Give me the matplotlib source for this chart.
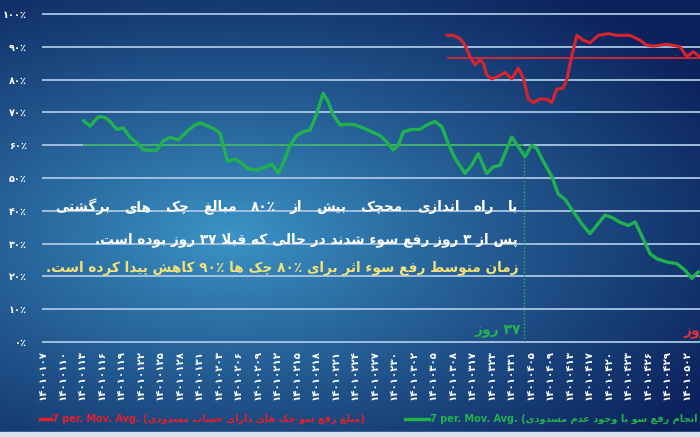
import re

import numpy as np
import matplotlib

matplotlib.use("Agg")
import matplotlib.pyplot as plt
from matplotlib.lines import Line2D

plt.rcParams["font.family"] = ["DejaVu Sans"]

W, H = 700, 437

# ---- data (x in tick-index units, y in percent) ----
tick_dates = [
    "14010107", "14010110", "14010113", "14010116", "14010119", "14010122",
    "14010125", "14010128", "14010131", "14010203", "14010206", "14010209",
    "14010212", "14010215", "14010218", "14010221", "14010224", "14010227",
    "14010230", "14010302", "14010305", "14010308", "14010317", "14010323",
    "14010331", "14010405", "14010409", "14010413", "14010417", "14010420",
    "14010423", "14010426", "14010429", "14010502",
]
y_ticks = [0, 10, 20, 30, 40, 50, 60, 70, 80, 90, 100]

green_x = [
    2.07, 2.41, 2.84, 3.18, 3.44, 3.78, 4.12, 4.46, 4.81, 5.14, 5.49, 5.83,
    6.17, 6.51, 6.94, 7.37, 7.79, 8.10, 8.46, 8.82, 9.08, 9.30, 9.47, 9.85,
    10.19, 10.53, 10.96, 11.30, 11.73, 12.07, 12.32, 12.67, 13.01, 13.35,
    13.69, 13.95, 14.37, 14.63, 14.89, 15.23, 15.66, 16.00, 16.43, 16.86,
    17.28, 17.63, 17.96, 18.22, 18.48, 18.91, 19.33, 19.68, 20.10, 20.45,
    20.78, 21.13, 21.64, 21.98, 22.32, 22.75, 23.09, 23.44, 24.04, 24.37,
    24.72, 25.06, 25.32, 25.66, 26.09, 26.43, 26.77, 27.11, 27.63, 28.05,
    28.39, 28.82, 29.16, 29.59, 30.02, 30.36, 30.70, 31.13, 31.47, 31.98,
    32.50, 32.92, 33.27, 33.61,
]
green_y = [
    67.5, 65.8, 68.7, 68.5, 67.2, 64.8, 65.3, 62.4, 60.8, 58.6, 58.4, 58.4,
    61.3, 62.4, 61.6, 64.1, 66.2, 66.8, 65.8, 64.8, 63.6, 58.6, 55.1, 55.8,
    54.4, 52.8, 52.4, 53.1, 54.2, 51.5, 54.6, 60.0, 63.0, 64.1,
    64.6, 68.2, 75.8, 73.2, 69.2, 66.2, 66.4, 66.2, 65.2, 64.1,
    63.0, 61.0, 58.5, 60.0, 64.1, 64.8, 64.8, 66.2, 67.2, 65.7,
    60.5, 56.0, 51.4, 53.9, 57.4, 51.4, 53.4, 53.9, 62.5, 59.5,
    56.5, 60.0, 59.0, 55.0, 50.5, 45.0, 43.5, 40.5, 36.0, 33.0,
    35.5, 38.7, 38.0, 36.5, 35.5, 36.6, 32.4, 26.9, 25.4, 24.4,
    23.9, 21.9, 19.4, 21.4,
]
red_x = [
    20.70, 21.04, 21.38, 21.64, 21.90, 22.15, 22.41, 22.58, 22.75, 23.01,
    23.35, 23.69, 24.04, 24.37, 24.63, 24.89, 25.14, 25.49, 25.83, 26.09,
    26.34, 26.68, 26.86, 27.11, 27.37, 27.71, 28.05, 28.48, 28.99, 29.42,
    30.10, 30.62, 30.96, 31.30, 31.98, 32.67, 33.01, 33.35, 33.66,
]
red_y = [
    93.5, 93.5, 92.5, 90.5, 87.0, 84.5, 86.0, 85.0, 81.5, 80.2,
    81.0, 82.2, 80.2, 83.5, 80.5, 74.0, 73.0, 74.1, 74.0, 73.0,
    77.0, 77.5, 80.0, 87.0, 93.5, 92.0, 91.2, 93.5, 94.0, 93.5,
    93.5, 92.0, 90.5, 90.2, 90.8, 90.0, 87.0, 88.5, 87.0,
]
green_ref = 60.0
red_ref = 86.5
launch_x = 24.67
launch_top = 58.5

line1 = "با راه اندازی محچک بیش از ۸۰٪ مبالغ چک های برگشتی"
line2 = "پس از ۳ روز رفع سوء شدند در حالی که قبلا ۳۷ روز بوده است."
line3 = "زمان متوسط رفع سوء اثر برای ۸۰٪ چک ها ۹۰٪ کاهش پیدا کرده است."
green_label = "(مبلغ انجام رفع سو با وجود عدم مسدودی)"
red_label = "(مبلغ رفع سو چک های دارای حساب مسدودی)"

# ---- minimal Persian shaping (matplotlib has no bidi/shaping) ----
_F = {
    "ء": ("\ufe80", None, None, None),
    "آ": ("\ufe81", "\ufe82", None, None),
    "ا": ("\ufe8d", "\ufe8e", None, None),
    "ب": ("\ufe8f", "\ufe90", "\ufe91", "\ufe92"),
    "پ": ("\ufb56", "\ufb57", "\ufb58", "\ufb59"),
    "ت": ("\ufe95", "\ufe96", "\ufe97", "\ufe98"),
    "ث": ("\ufe99", "\ufe9a", "\ufe9b", "\ufe9c"),
    "ج": ("\ufe9d", "\ufe9e", "\ufe9f", "\ufea0"),
    "چ": ("\ufb7a", "\ufb7b", "\ufb7c", "\ufb7d"),
    "ح": ("\ufea1", "\ufea2", "\ufea3", "\ufea4"),
    "خ": ("\ufea5", "\ufea6", "\ufea7", "\ufea8"),
    "د": ("\ufea9", "\ufeaa", None, None),
    "ذ": ("\ufeab", "\ufeac", None, None),
    "ر": ("\ufead", "\ufeae", None, None),
    "ز": ("\ufeaf", "\ufeb0", None, None),
    "ژ": ("\ufb8a", "\ufb8b", None, None),
    "س": ("\ufeb1", "\ufeb2", "\ufeb3", "\ufeb4"),
    "ش": ("\ufeb5", "\ufeb6", "\ufeb7", "\ufeb8"),
    "ص": ("\ufeb9", "\ufeba", "\ufebb", "\ufebc"),
    "ض": ("\ufebd", "\ufebe", "\ufebf", "\ufec0"),
    "ط": ("\ufec1", "\ufec2", "\ufec3", "\ufec4"),
    "ظ": ("\ufec5", "\ufec6", "\ufec7", "\ufec8"),
    "ع": ("\ufec9", "\ufeca", "\ufecb", "\ufecc"),
    "غ": ("\ufecd", "\ufece", "\ufecf", "\ufed0"),
    "ف": ("\ufed1", "\ufed2", "\ufed3", "\ufed4"),
    "ق": ("\ufed5", "\ufed6", "\ufed7", "\ufed8"),
    "ک": ("\ufb8e", "\ufb8f", "\ufb90", "\ufb91"),
    "گ": ("\ufb92", "\ufb93", "\ufb94", "\ufb95"),
    "ل": ("\ufedd", "\ufede", "\ufedf", "\ufee0"),
    "م": ("\ufee1", "\ufee2", "\ufee3", "\ufee4"),
    "ن": ("\ufee5", "\ufee6", "\ufee7", "\ufee8"),
    "ه": ("\ufee9", "\ufeea", "\ufeeb", "\ufeec"),
    "و": ("\ufeed", "\ufeee", None, None),
    "ی": ("\ufbfc", "\ufbfd", "\ufbfe", "\ufbff"),
}
_MIRROR = str.maketrans("()", ")(")
_DIGITS = str.maketrans("0123456789", "۰۱۲۳۴۵۶۷۸۹")


def _shape(s):
    out = []
    i, n = 0, len(s)
    while i < n:
        c = s[i]
        f = _F.get(c)
        if f is None:
            out.append(c)
            i += 1
            continue
        prev = s[i - 1] if i > 0 else ""
        joins_prev = prev in _F and _F[prev][2] is not None
        if c == "ل" and i + 1 < n and s[i + 1] == "ا":
            out.append("\ufefc" if joins_prev else "\ufefb")
            i += 2
            continue
        nxt = s[i + 1] if i + 1 < n else ""
        joins_next = f[2] is not None and nxt in _F and _F[nxt][1] is not None
        iso, fin, ini, med = f
        if joins_prev and joins_next:
            out.append(med)
        elif joins_prev:
            out.append(fin)
        elif joins_next:
            out.append(ini)
        else:
            out.append(iso)
        i += 1
    return "".join(out)


def fa(s):
    runs = re.findall(r"[0-9۰-۹٪]+|[^0-9۰-۹٪]+", _shape(s))
    vis = []
    for r in reversed(runs):
        if re.match(r"[0-9۰-۹٪]", r):
            vis.append(r)
        else:
            vis.append(r[::-1].translate(_MIRROR))
    return "".join(vis)


def fx(x):
    return x / W


def fy(y):
    return 1 - y / H


# ---- figure + gradient background ----
fig = plt.figure(figsize=(W / 100, H / 100), dpi=100)
bg = fig.add_axes([0, 0, 1, 1])
yy, xx = np.mgrid[0:H, 0:W]
d = np.sqrt(((xx - 230) / 560) ** 2 + ((yy - 235) / 300) ** 2)
t = np.clip(d, 0, 1)[..., None] ** 0.9
c0 = np.array([0x3c, 0x95, 0xc8]) / 255
c1 = np.array([0x0c, 0x22, 0x5c]) / 255
bg.imshow(c0 * (1 - t) + c1 * t, extent=(0, W, H, 0), aspect="auto")
bg.add_patch(plt.Rectangle((0, 432), W, 5, color="#dae4ee"))
bg.set_xlim(0, W)
bg.set_ylim(H, 0)
bg.axis("off")

ax = fig.add_axes([fx(42), fy(342), (W - 42) / W, 328 / H])
ax.patch.set_alpha(0)
x_lo, x_hi = -0.05, 33.69
ax.set_xlim(x_lo, x_hi)
ax.set_ylim(0, 100)
for s in ax.spines.values():
    s.set_visible(False)

ax.hlines(y_ticks, x_lo, x_hi, colors="#a9c6e3", lw=1.3, clip_on=False, zorder=1)

ax.set_yticks(y_ticks, labels=[str(v).translate(_DIGITS) + "٪" for v in y_ticks])
ax.set_xticks(range(len(tick_dates)),
              labels=[d_.translate(_DIGITS) for d_ in tick_dates], rotation=90)
ax.tick_params(axis="y", length=0, pad=11, colors="white", labelsize=7)
ax.tick_params(axis="x", length=0, pad=6, colors="white", labelsize=7.3)
for lab in ax.get_xticklabels() + ax.get_yticklabels():
    lab.set_fontweight("bold")

ax.hlines(green_ref, green_x[0], launch_x, colors="#27a852", lw=1.1, zorder=2)
ax.hlines(red_ref, red_x[0], x_hi, colors="#d42a35", lw=1.3, zorder=2)
ax.vlines(launch_x, 0, launch_top, colors="#2fb85c", lw=1.0,
          linestyles=(0, (1, 1.5)), zorder=2)

ax.plot(green_x, green_y, color="#1fb24f", lw=2.4, solid_joinstyle="round",
        solid_capstyle="round", zorder=4, clip_on=False)
ax.plot(red_x, red_y, color="#d9232e", lw=2.2, solid_joinstyle="round",
        solid_capstyle="round", zorder=4, clip_on=False)

# ---- annotation text ----
txt_kw = dict(fontsize=9.8, fontweight="bold", va="center")
renderer = fig.canvas.get_renderer()
words = [fa(w) for w in reversed(line1.split())]
objs = [fig.text(0, fy(207), w, color="white", ha="left", **txt_kw) for w in words]
widths = [o.get_window_extent(renderer).width for o in objs]
gap = (518 - 55 - sum(widths)) / (len(words) - 1)
x = 55.0
for o, w in zip(objs, widths):
    o.set_x(fx(x))
    x += w + gap

fig.text(fx(518), fy(240), fa(line2), color="white", ha="right", **txt_kw)
fig.text(fx(518), fy(268), fa(line3), color="#f3e27a", ha="right", **txt_kw)

fig.text(fx(521), fy(330), fa("۳۷ روز"), color="#23b254", ha="right",
         va="center", fontsize=10, fontweight="bold")
fig.text(fx(684), fy(331), fa("۳ روز"), color="#e0303a", ha="left",
         va="center", fontsize=10, fontweight="bold")

# ---- legend ----
fig.add_artist(Line2D([fx(40), fx(51)], [fy(419), fy(419)], color="#e3202b", lw=2.5))
fig.text(fx(52), fy(419), "7 per. Mov. Avg. " + fa(red_label), color="#e3202b",
         fontsize=7, fontweight="bold", va="center", ha="left")
fig.add_artist(Line2D([fx(405), fx(429)], [fy(419), fy(419)], color="#22b24c", lw=2.5))
fig.text(fx(430), fy(419), "7 per. Mov. Avg. " + fa(green_label), color="#22b24c",
         fontsize=7, fontweight="bold", va="center", ha="left")

fig.savefig("out.png", dpi=100)
